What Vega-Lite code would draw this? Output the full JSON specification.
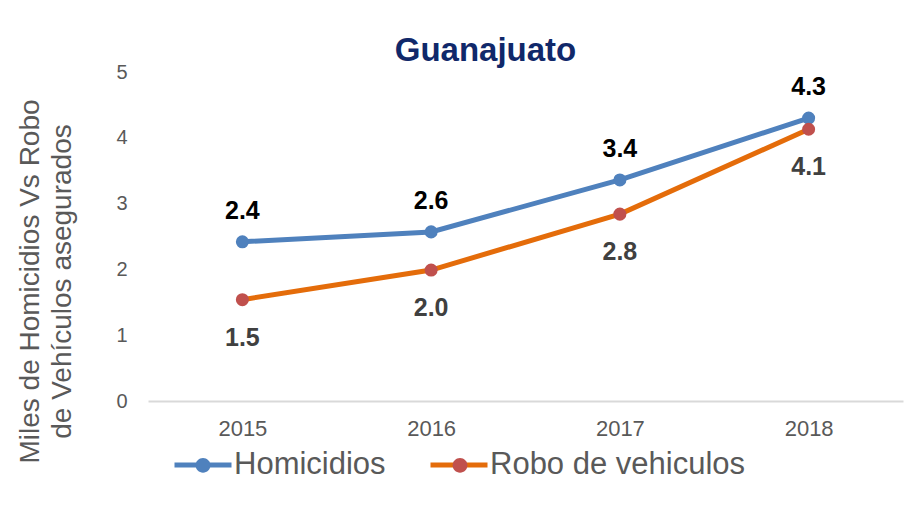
{
  "$schema": "https://vega.github.io/schema/vega-lite/v6.json",
  "autosize": {"type": "none"},
  "width": 755,
  "height": 329,
  "padding": {"left": 148, "top": 72, "right": 19, "bottom": 128},
  "background": "white",
  "config": {
    "font": "Liberation Sans",
    "view": {"stroke": null}
  },
  "title": {
    "text": "Guanajuato",
    "fontSize": 33,
    "fontWeight": "bold",
    "color": "#10286A",
    "anchor": "middle",
    "dx": -40,
    "dy": 44,
    "baseline": "alphabetic",
    "offset": 12,
    "font": "Liberation Sans"
  },
  "data": {
    "values": [
      {"year": "2015", "serie": "Homicidios", "value": 2.42},
      {"year": "2016", "serie": "Homicidios", "value": 2.57},
      {"year": "2017", "serie": "Homicidios", "value": 3.36},
      {"year": "2018", "serie": "Homicidios", "value": 4.3},
      {"year": "2015", "serie": "Robo de vehiculos", "value": 1.54},
      {"year": "2016", "serie": "Robo de vehiculos", "value": 1.99},
      {"year": "2017", "serie": "Robo de vehiculos", "value": 2.84},
      {"year": "2018", "serie": "Robo de vehiculos", "value": 4.13}
    ]
  },
  "encoding": {
    "x": {
      "field": "year", "type": "ordinal",
      "scale": {"type": "point", "padding": 0.5},
      "axis": {
        "title": null, "labelAngle": 0, "ticks": false, "grid": false,
        "domainColor": "#D9D9D9", "domainWidth": 2,
        "labelFontSize": 22, "labelColor": "#595959", "labelPadding": 17,
        "labelFont": "Liberation Sans"
      }
    },
    "y": {
      "field": "value", "type": "quantitative",
      "scale": {"domain": [0, 5], "nice": false},
      "axis": {
        "values": [0, 1, 2, 3, 4, 5],
        "domain": false, "ticks": false, "grid": false,
        "labelFontSize": 20, "labelColor": "#595959", "labelPadding": 21,
        "labelFont": "Liberation Sans",
        "title": ["Miles  de Homicidios Vs Robo", "de Vehículos asegurados"],
        "titleFontSize": 28, "titleFontWeight": "normal", "titleColor": "#595959",
        "titleFont": "Liberation Sans",
        "titleAngle": -90, "titleX": -118, "titleY": 209,
        "titleAlign": "center", "titleBaseline": "middle", "titleLineHeight": 32
      }
    }
  },
  "layer": [
    {
      "mark": {"type": "line", "strokeWidth": 5},
      "encoding": {
        "color": {
          "field": "serie", "type": "nominal",
          "scale": {"range": ["#4F81BD", "#E46C0A"]},
          "legend": {
            "title": null, "orient": "none", "direction": "horizontal",
            "legendX": 24, "legendY": 362,
            "symbolType": "stroke", "symbolSize": 3249, "symbolStrokeWidth": 5,
            "labelFontSize": 31, "labelColor": "#595959", "labelFont": "Liberation Sans",
            "labelOffset": 0, "columnPadding": 34, "labelLimit": 400
          }
        }
      }
    },
    {
      "mark": {"type": "point", "filled": true, "size": 170, "opacity": 1},
      "encoding": {
        "fill": {
          "field": "serie", "type": "nominal",
          "scale": {"domain": ["Homicidios", "Robo de vehiculos"], "range": ["#4F81BD", "#C0504D"]},
          "legend": {
            "title": null, "orient": "none", "direction": "horizontal",
            "legendX": 24, "legendY": 362,
            "symbolType": "M0.26,0A0.26,0.26 0 1,1 -0.26,0A0.26,0.26 0 1,1 0.26,0Z",
            "symbolSize": 3249, "symbolStrokeWidth": 5, "symbolStrokeColor": "transparent",
            "symbolOpacity": 1,
            "labelExpr": "''",
            "labelFontSize": 31, "labelFont": "Liberation Sans",
            "labelOffset": 0, "columnPadding": 195, "labelLimit": 400
          }
        }
      }
    },
    {
      "transform": [{"filter": "datum.serie === 'Homicidios'"}],
      "mark": {"type": "text", "dy": -31, "fontSize": 25, "fontWeight": "bold", "color": "#000000", "font": "Liberation Sans"},
      "encoding": {"text": {"field": "value", "type": "quantitative", "format": ".1f"}}
    },
    {
      "transform": [{"filter": "datum.serie === 'Robo de vehiculos'"}],
      "mark": {"type": "text", "dy": 38, "fontSize": 25, "fontWeight": "bold", "color": "#404040", "font": "Liberation Sans"},
      "encoding": {"text": {"field": "value", "type": "quantitative", "format": ".1f"}}
    }
  ]
}
